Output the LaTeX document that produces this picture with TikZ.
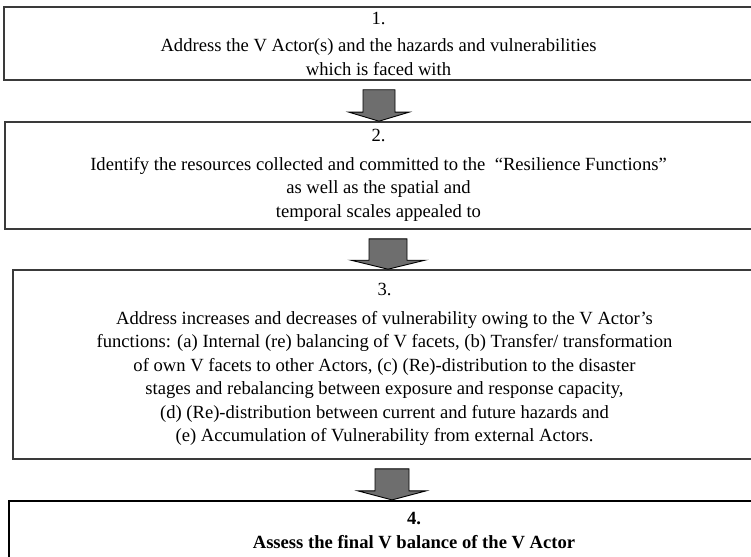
\documentclass[tikz,border=0pt]{standalone}
\usepackage{fontspec}
\setmainfont{Liberation Serif}
\usetikzlibrary{calc}
\definecolor{Frame}{HTML}{3A3A3A}
\definecolor{ArrowFill}{HTML}{6E6E6E}

\begin{document}
\begin{tikzpicture}[x=1pt,y=-1pt,
  stepbox/.style={draw=Frame,line width=1.6pt,align=center,inner sep=0pt,font=\fontsize{18.6}{23.5}\selectfont},
  finalbox/.style={stepbox,draw=black,line width=2.2pt,font=\fontsize{18.6}{23.5}\selectfont\bfseries},
  blockarrow/.style={draw=black,line width=0.9pt,fill=ArrowFill,line join=miter}
]
\clip (0,0) rectangle (751,556);
\node[stepbox,minimum width=749pt,minimum height=73pt] (step1) at (378.5,43.5)
  {1.\\[4pt]Address the V Actor(s) and the hazards and vulnerabilities\\which is faced with};
\node[stepbox,minimum width=747pt,minimum height=107pt] (step2) at (378.5,175.5)
  {2.\\[5pt]Identify the resources collected and committed to the \ “Resilience Functions”\\as well as the spatial and\\temporal scales appealed to};
\node[stepbox,minimum width=743pt,minimum height=189pt] (step3) at (384.5,364.5)
  {3.\\[5pt]Address increases and decreases of vulnerability owing to the V Actor’s\\
   functions: (a) Internal (re) balancing of V facets, (b) Transfer/ transformation\\
   of own V facets to other Actors, (c) (Re)-distribution to the disaster\\
   stages and rebalancing between exposure and response capacity,\\
   (d) (Re)-distribution between current and future hazards and\\
   (e) Accumulation of Vulnerability from external Actors.};
\node[finalbox,minimum width=810pt,minimum height=59pt] (step4) at (414,530.5)
  {4.\\Assess the final V balance of the V Actor};
% block arrows between the steps
\foreach \a/\b/\x/\s/\h in {step1/step2/379/16/30,step2/step3/388/19/37,step3/step4/392/17/34}{
  \coordinate (tip) at (\x,0);
  \draw[blockarrow] ($(\a.south -| tip)+(-\s,9)$) -- ($(\b.north -| tip)+(-\s,-9)$)
    -- ++(-\h+\s,0) -- (\b.north -| tip) -- ++(\h,-9) -- ++(-\h+\s,0)
    -- ($(\a.south -| tip)+(\s,9)$) -- cycle;
}
\end{tikzpicture}
\end{document}
